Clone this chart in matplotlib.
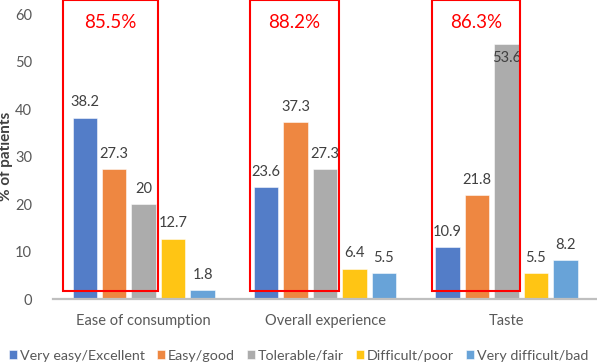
import numpy as np
import matplotlib
matplotlib.use("Agg")
import matplotlib.pyplot as plt
from matplotlib.patches import Rectangle

categories = ["Ease of consumption", "Overall experience", "Taste"]
series = ["Very easy/Excellent", "Easy/good", "Tolerable/fair", "Difficult/poor", "Very difficult/bad"]
very_easy = [38.2, 23.6, 10.9]
easy = [27.3, 37.3, 21.8]
tolerable = [20, 27.3, 53.6]
difficult = [12.7, 6.4, 5.5]
very_difficult = [1.8, 5.5, 8.2]
highlight = ["85.5%", "88.2%", "86.3%"]

colors = ["#4472C4", "#ED7D31", "#A5A5A5", "#FFC000", "#5B9BD5"]
values = [very_easy, easy, tolerable, difficult, very_difficult]

plt.rcParams["font.family"] = ["Lato", "DejaVu Sans"]
fig = plt.figure(figsize=(5.97, 3.63), dpi=100)
ax = fig.add_axes([0.0888, 0.1763, 0.9112, 0.7851])

x = np.arange(len(categories))
width = 0.135
step = 0.1625
txt = "#404040"

for i, (vals, c, name) in enumerate(zip(values, colors, series)):
    xs = x + (i - 2) * step
    bars = ax.bar(xs, vals, width, color=c, alpha=0.92, label=name, edgecolor="white",
                  linewidth=0.4, zorder=2)
    for b, v in zip(bars, vals):
        label = "%g" % v
        if v > 50:
            ax.annotate(label, (b.get_x() + width / 2, v), xytext=(0, -5), textcoords="offset points",
                        ha="center", va="top", fontsize=10.5, color=txt, zorder=3)
        else:
            ax.annotate(label, (b.get_x() + width / 2, v), xytext=(0, 6), textcoords="offset points",
                        ha="center", va="bottom", fontsize=10.5, color=txt, zorder=3)

# red boxes around the first three bars of each group
left_pad = [0.05, 0.022, 0.017]
for j in range(len(categories)):
    x0 = x[j] - 2 * step - width / 2 - left_pad[j]
    x1 = x[j] + width / 2 + 0.01
    ax.add_patch(Rectangle((x0, 1.7), x1 - x0, 61.2, fill=False, edgecolor="#FF0000",
                           linewidth=1.5, clip_on=False, zorder=4))
    ax.text((x0 + x1) / 2, 58.3, highlight[j], ha="center", va="center", fontsize=13.5,
            color="#FF0000", zorder=4)

ax.set_xlim(-0.5, 2.5)
ax.set_ylim(0, 60)
ax.set_yticks(range(0, 61, 10))
ax.set_xticks(x)
ax.set_xticklabels(categories, fontsize=10.5, color="#595959")
ax.tick_params(axis="y", labelsize=10.5, labelcolor="#595959", length=0, pad=15)
ax.tick_params(axis="x", length=0, pad=11)
for s in ["left", "right", "top"]:
    ax.spines[s].set_visible(False)
ax.spines["bottom"].set_color("#BFBFBF")
ax.spines["bottom"].set_linewidth(1.6)
ax.set_ylabel("% of patients", fontsize=11, fontweight="bold", color=txt)
ax.yaxis.set_label_coords(-0.074, 0.5)

fig.legend(loc="center", bbox_to_anchor=(0.5, 0.02), ncol=5, frameon=False, fontsize=10.3,
           handlelength=0.55, handleheight=0.55, handletextpad=0.2, columnspacing=0.85,
           labelcolor="#595959", borderaxespad=0)

fig.savefig("out.png", dpi=100)
